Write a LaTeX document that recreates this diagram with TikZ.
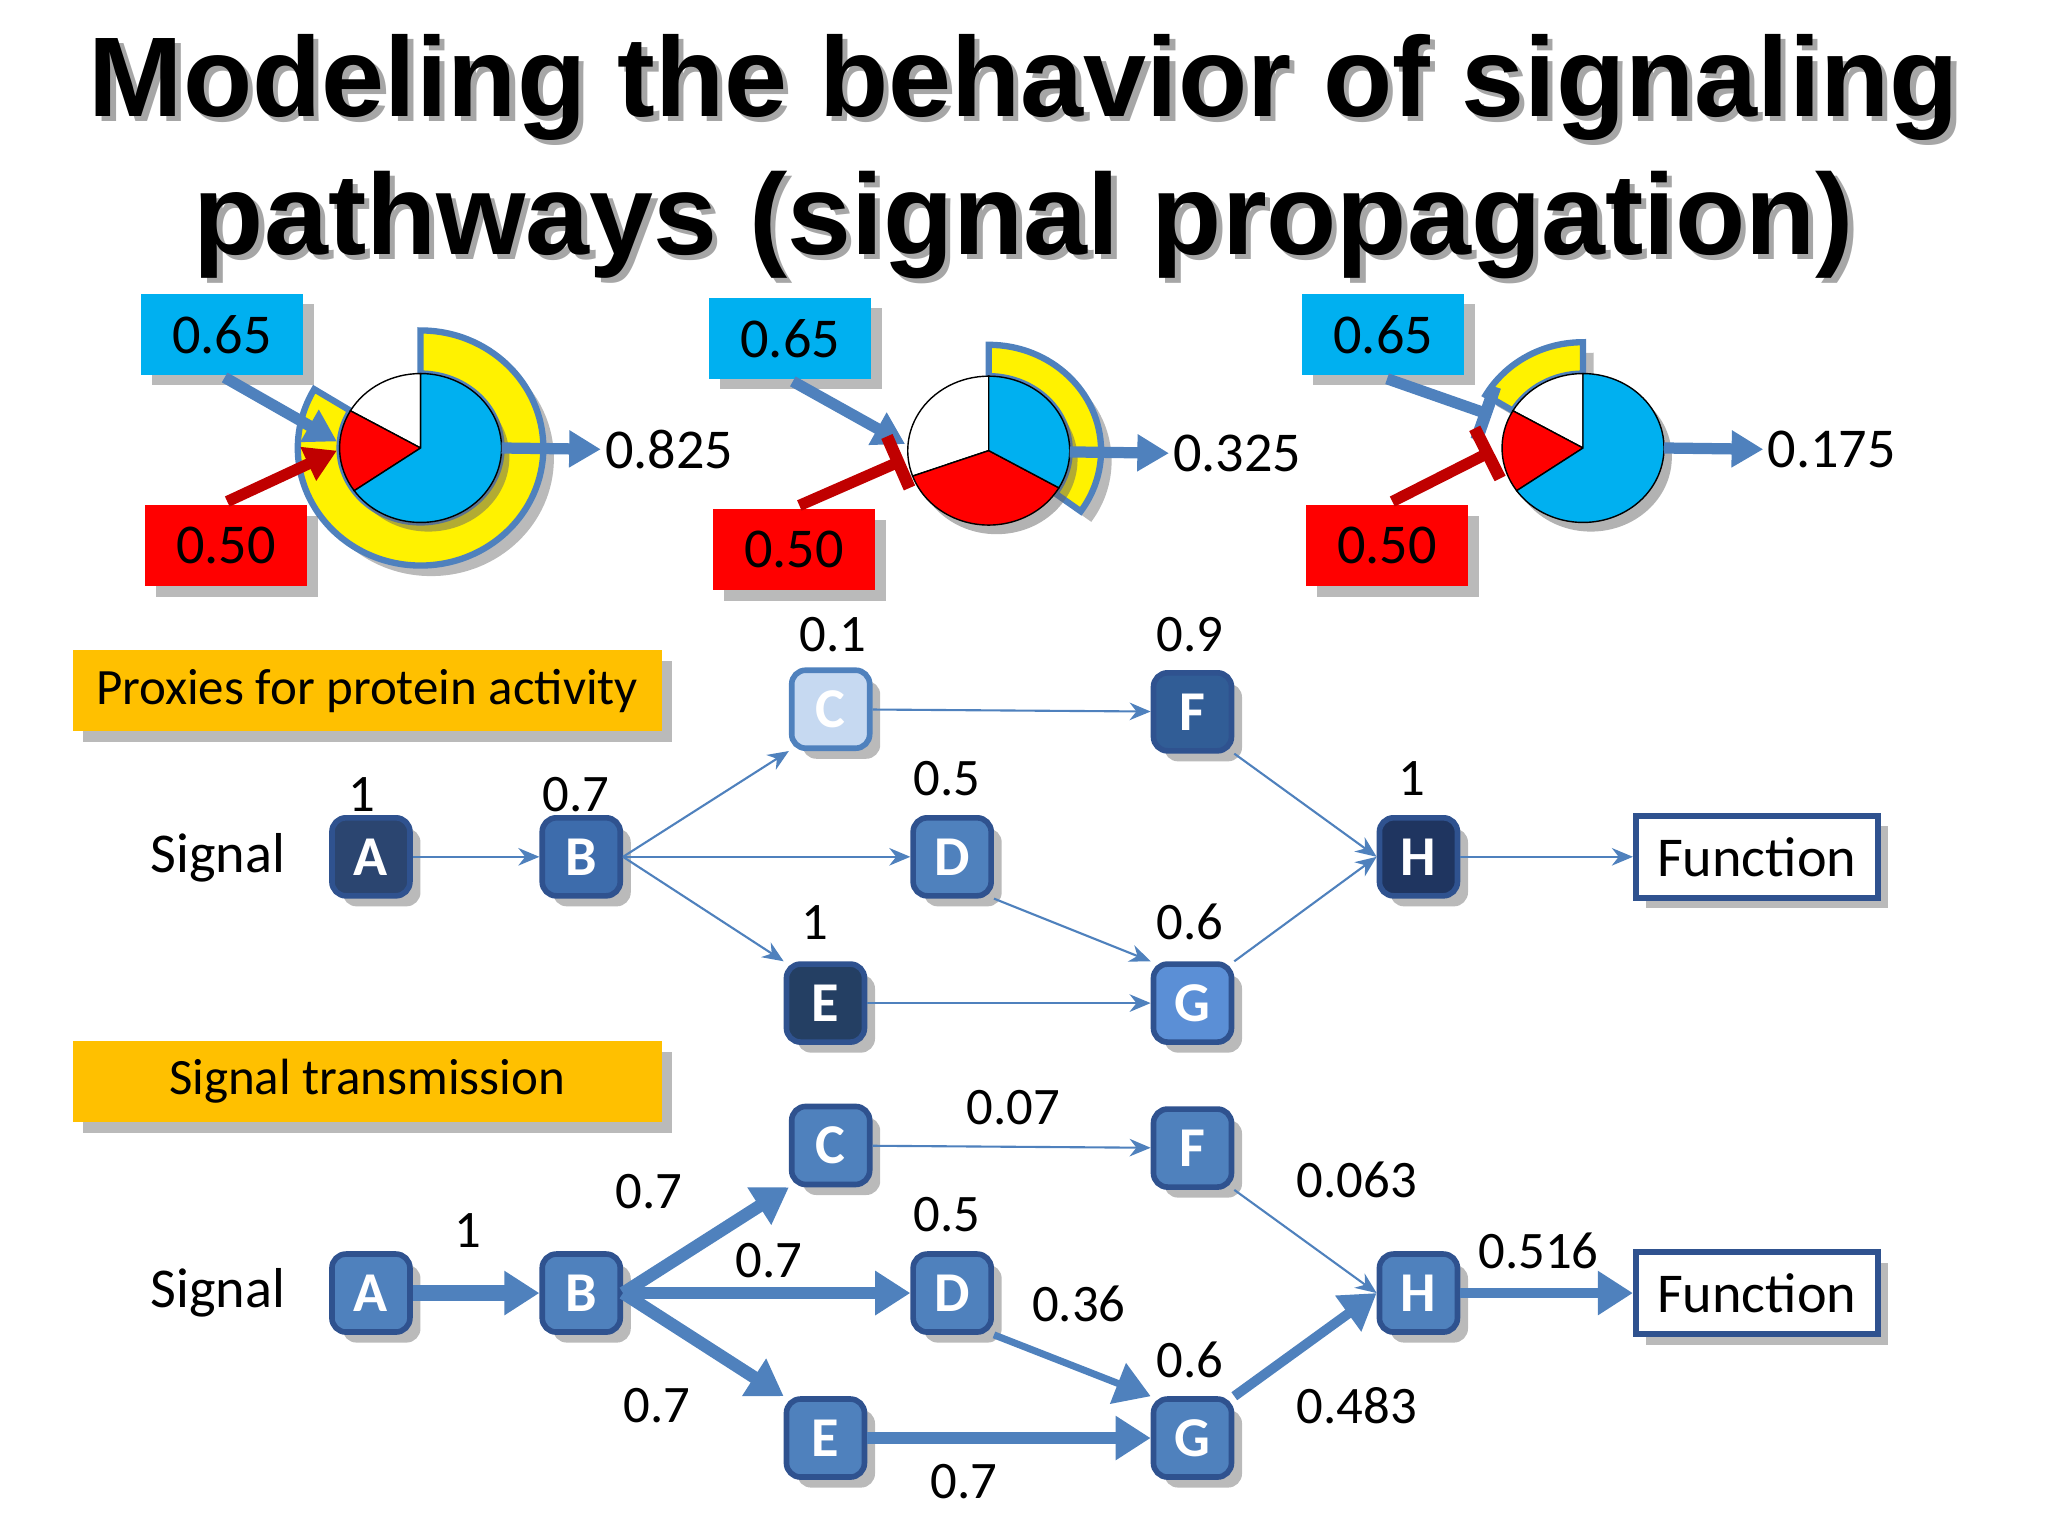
\documentclass[tikz,border=0pt]{standalone}
\usepackage{fontspec}
\setmainfont{Carlito}
\newfontfamily\titlefont{Liberation Sans}
\usetikzlibrary{shadows,arrows.meta}
\definecolor{cy}{HTML}{00B0F0}
\definecolor{ab}{HTML}{4F81BD}
\definecolor{dred}{HTML}{C00000}
\definecolor{org}{HTML}{FFC000}
\definecolor{nA}{HTML}{2B4570}
\definecolor{nB}{HTML}{3D6CAC}
\definecolor{nC}{HTML}{C6D9F1}
\definecolor{nD}{HTML}{4F81BD}
\definecolor{nE}{HTML}{243F63}
\definecolor{nF}{HTML}{315D96}
\definecolor{nG}{HTML}{5B8FD6}
\definecolor{nH}{HTML}{1F3560}
\definecolor{bd}{HTML}{2F528F}
\tikzset{
 shad/.style={drop shadow={opacity=0.45,shadow xshift=3pt,shadow yshift=-3pt,fill=black!60}},
 nd/.style={rounded corners=4pt,minimum size=7.8mm,inner sep=0pt,draw=bd,line width=1.6pt,text=white,font=\fontsize{16}{16}\selectfont\bfseries,shad},
 lab/.style={font=\fontsize{15}{15}\selectfont},
 valbox/.style={minimum width=16.2mm,minimum height=8.1mm,inner sep=0pt,font=\fontsize{16}{16}\selectfont,shad},
 ttl/.style={fill=org,minimum width=58.9mm,minimum height=8.1mm,inner sep=0pt,font=\fontsize{14.5}{15}\selectfont,shad},
 fn/.style={draw=bd,line width=1.6pt,fill=white,minimum width=24.2mm,minimum height=8.2mm,font=\fontsize{16}{16}\selectfont,shad},
 ta/.style={ab,line width=0.6pt,-{Stealth[length=6pt,width=5pt]}},
 ba/.style={ab,-{Triangle[length=10pt,width=12pt]}},
 pa/.style={ab,line width=3.2pt,-{Triangle[length=9pt,width=10pt]}},
 ra/.style={dred,line width=3.2pt,-{Triangle[length=9pt,width=10pt]}},
 pt/.style={ab,line width=3.2pt,-{Bar[width=16pt,line width=3.5pt]}},
 rt/.style={dred,line width=3.2pt,-{Bar[width=16pt,line width=3.5pt]}},
 ring/.style={fill=yellow,draw=ab,line width=1.8pt,shad},
 sl/.style={draw=black,line width=0.4pt},
}
\begin{document}
\begin{tikzpicture}[x=0.013061cm,y=-0.013061cm]
\useasboundingbox (0,0) rectangle (1568,1176);
% title
\node[text=black!35,font=\titlefont\bfseries] (t1s) at (788,71) {\resizebox{18.7cm}{!}{Modeling the behavior of signaling}};
\node[text=black!35,font=\titlefont\bfseries] (t2s) at (788,176) {\resizebox{16.6cm}{!}{pathways (signal propagation)}};
\node[font=\titlefont\bfseries] (t1) at (784,67) {\resizebox{18.7cm}{!}{Modeling the behavior of signaling}};
\node[font=\titlefont\bfseries] (t2) at (784,172) {\resizebox{16.6cm}{!}{pathways (signal propagation)}};
% ---------- pies ----------
% pie 1
\path[ring] (322,343) ++(-150:62 and 57) arc[start angle=-150,end angle=-450,x radius=62,y radius=57] -- ++(0,-33) arc[start angle=-450,end angle=-150,x radius=94,y radius=90] -- cycle;
\fill[black!60,opacity=0.5] (328,350) ellipse[x radius=62,y radius=57];
\filldraw[fill=white,sl] (322,343) -- ++(-90:62 and 57) arc[start angle=-90,end angle=-150,x radius=62,y radius=57] -- cycle;
\filldraw[fill=red,sl] (322,343) -- ++(-150:62 and 57) arc[start angle=-150,end angle=-215,x radius=62,y radius=57] -- cycle;
\filldraw[fill=cy,sl] (322,343) -- ++(-215:62 and 57) arc[start angle=-215,end angle=-450,x radius=62,y radius=57] -- cycle;
% pie 2
\path[ring] (757,345) ++(35:62 and 57) arc[start angle=35,end angle=-90,x radius=62,y radius=57] -- ++(0,-24) arc[start angle=-90,end angle=35,x radius=86,y radius=81] -- cycle;
\fill[black!60,opacity=0.5] (763,352) ellipse[x radius=62,y radius=57];
\filldraw[fill=white,sl] (757,345) -- ++(-90:62 and 57) arc[start angle=-90,end angle=-200,x radius=62,y radius=57] -- cycle;
\filldraw[fill=red,sl] (757,345) -- ++(-200:62 and 57) arc[start angle=-200,end angle=-330,x radius=62,y radius=57] -- cycle;
\filldraw[fill=cy,sl] (757,345) -- ++(-330:62 and 57) arc[start angle=-330,end angle=-450,x radius=62,y radius=57] -- cycle;
% pie 3
\path[ring] (1212,343) ++(-150:62 and 57) arc[start angle=-150,end angle=-90,x radius=62,y radius=57] -- ++(0,-24) arc[start angle=-90,end angle=-150,x radius=86,y radius=81] -- cycle;
\fill[black!60,opacity=0.5] (1218,350) ellipse[x radius=62,y radius=57];
\filldraw[fill=white,sl] (1212,343) -- ++(-90:62 and 57) arc[start angle=-90,end angle=-150,x radius=62,y radius=57] -- cycle;
\filldraw[fill=red,sl] (1212,343) -- ++(-150:62 and 57) arc[start angle=-150,end angle=-215,x radius=62,y radius=57] -- cycle;
\filldraw[fill=cy,sl] (1212,343) -- ++(-215:62 and 57) arc[start angle=-215,end angle=-450,x radius=62,y radius=57] -- cycle;
% value boxes
\node[valbox,fill=cy] (b1) at (170,256) {0.65};
\node[valbox,fill=red] (r1) at (173,418) {0.50};
\node[valbox,fill=cy] (b2) at (605,259) {0.65};
\node[valbox,fill=red] (r2) at (608,421) {0.50};
\node[valbox,fill=cy] (b3) at (1059,256) {0.65};
\node[valbox,fill=red] (r3) at (1062,418) {0.50};
\coordinate (p1b) at (258,338); \coordinate (p1r) at (258,345);
\coordinate (p2b) at (693,340); \coordinate (p2r) at (692,352);
\coordinate (p3b) at (1142,318); \coordinate (p3r) at (1143,345);
\draw[pa] (172,289) -- (p1b);
\draw[ra] (174,384) -- (p1r);
\draw[pa] (607,292) -- (p2b);
\draw[rt] (612,387) -- (p2r);
\draw[pt] (1062,290) -- (p3b);
\draw[rt] (1066,384) -- (p3r);
\node[lab,anchor=west,font=\fontsize{16}{16}\selectfont,inner sep=1pt] (o1) at (460,344) {0.825};
\node[lab,anchor=west,font=\fontsize{16}{16}\selectfont,inner sep=1pt] (o2) at (895,347) {0.325};
\node[lab,anchor=west,font=\fontsize{16}{16}\selectfont,inner sep=1pt] (o3) at (1350,344) {0.175};
\draw[pa] (384,343) -- (o1.west);
\draw[pa] (819,346) -- (o2.west);
\draw[pa] (1274,343) -- (o3.west);
% ---------- top network ----------
\node[ttl] (tt1) at (281,529) {Proxies for protein activity};
\node[lab,font=\fontsize{16}{16}\selectfont] (s1) at (167,657) {Signal};
\node[nd,fill=nA] (A) at (284,656) {A};
\node[nd,fill=nB] (B) at (445,656) {B};
\node[nd,fill=nC,draw=ab] (C) at (636,543) {C};
\node[nd,fill=nD] (D) at (729,656) {D};
\node[nd,fill=nE] (E) at (632,768) {E};
\node[nd,fill=nF] (F) at (913,545) {F};
\node[nd,fill=nG] (G) at (913,768) {G};
\node[nd,fill=nH] (H) at (1086,656) {H};
\node[fn] (Fn) at (1345,656) {Function};
\node[lab] at (277,608) {1};
\node[lab] at (441,608) {0.7};
\node[lab] at (638,486) {0.1};
\node[lab] at (725,596) {0.5};
\node[lab] at (624,706) {1};
\node[lab] at (911,486) {0.9};
\node[lab] at (911,706) {0.6};
\node[lab] at (1081,596) {1};
\draw[ta] (A) -- (B);
\draw[ta] (B.east) -- (C.south west);
\draw[ta] (B) -- (D);
\draw[ta] (B.east) -- (E.north west);
\draw[ta] (C) -- (F);
\draw[ta] (D.south east) -- (G.north west);
\draw[ta] (E) -- (G);
\draw[ta] (F.south east) -- (H.west);
\draw[ta] (G.north east) -- (H.west);
\draw[ta] (H) -- (Fn);
% ---------- bottom network ----------
\node[ttl] (tt2) at (281,828) {Signal transmission};
\node[lab,font=\fontsize{16}{16}\selectfont] (s2) at (167,990) {Signal};
\node[nd,fill=nD] (A2) at (284,990) {A};
\node[nd,fill=nD] (B2) at (445,990) {B};
\node[nd,fill=nD] (C2) at (636,877) {C};
\node[nd,fill=nD] (D2) at (729,990) {D};
\node[nd,fill=nD] (E2) at (632,1101) {E};
\node[nd,fill=nD] (F2) at (913,879) {F};
\node[nd,fill=nD] (G2) at (913,1101) {G};
\node[nd,fill=nD] (H2) at (1086,990) {H};
\node[fn] (Fn2) at (1345,990) {Function};
\draw[ba,line width=4.5pt] (A2) -- (B2);
\draw[ba,line width=3.6pt] (B2.east) -- (C2.south west);
\draw[ba,line width=3.6pt] (B2) -- (D2);
\draw[ba,line width=3.6pt] (B2.east) -- (E2.north west);
\draw[ta] (C2) -- (F2);
\draw[ba,line width=2pt] (D2.south east) -- (G2.north west);
\draw[ba,line width=3.6pt] (E2) -- (G2);
\draw[ta] (F2.south east) -- (H2.west);
\draw[ba,line width=2.8pt] (G2.north east) -- (H2.west);
\draw[ba,line width=2.8pt] (H2) -- (Fn2);
\node[lab] at (358,942) {1};
\node[lab] at (497,912) {0.7};
\node[lab] at (589,965) {0.7};
\node[lab] at (503,1076) {0.7};
\node[lab] at (776,848) {0.07};
\node[lab] at (1039,903) {0.063};
\node[lab] at (725,930) {0.5};
\node[lab] at (826,998) {0.36};
\node[lab] at (911,1041) {0.6};
\node[lab] at (1039,1076) {0.483};
\node[lab] at (738,1134) {0.7};
\node[lab] at (1178,958) {0.516};
\end{tikzpicture}
\end{document}
